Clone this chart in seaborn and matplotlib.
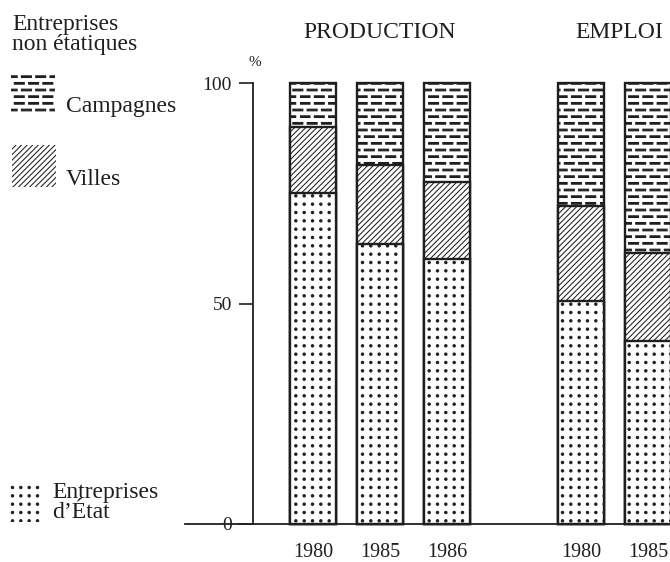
import numpy as np
import pandas as pd
import matplotlib
matplotlib.use("Agg")
import matplotlib.pyplot as plt
import seaborn as sns
from matplotlib import hatch as mhatch
from matplotlib.path import Path
from matplotlib.patches import Rectangle

# ---------------- data ----------------
sectors = ["PRODUCTION", "PRODUCTION", "PRODUCTION", "EMPLOI", "EMPLOI"]
years = ["1980", "1985", "1986", "1980", "1985"]
etat = [75.0, 63.5, 60.0, 50.5, 41.5]        # Entreprises d'État
villes = [15.0, 18.0, 17.5, 21.5, 20.0]      # non étatiques - Villes
campagnes = [10.0, 18.5, 22.5, 28.0, 38.5]   # non étatiques - Campagnes
y_ticks = [0, 50, 100]

INK = "#1f1f1f"
W, H = 670, 562


# ---------------- custom hatches (dashed rows, square dot grid) ----------------
class DashRows(mhatch.HatchPatternBase):
    def __init__(self, hatch, density):
        n = hatch.count('-')
        self.rows = int(round(n * density * 2.5))
        self.segs = []
        if self.rows:
            per = 7
            period = 1.0 / per
            dash = 0.70 * period
            th = 0.017
            step = 1.0 / self.rows
            for r in range(self.rows):
                y = (r + 0.5) * step
                off = period / 2 if r % 2 else 0.0
                for k in range(per):
                    x0 = k * period + off
                    x1 = x0 + dash
                    if x1 <= 1.0:
                        self.segs.append((x0, x1, y, th))
                    else:
                        if x0 < 1.0:
                            self.segs.append((x0, 1.0, y, th))
                        self.segs.append((0.0, x1 - 1.0, y, th))
        self.num_vertices = 5 * len(self.segs)

    def set_vertices_and_codes(self, vertices, codes):
        for i, (x0, x1, y, th) in enumerate(self.segs):
            vertices[5 * i:5 * i + 5] = [(x0, y - th / 2), (x1, y - th / 2),
                                         (x1, y + th / 2), (x0, y + th / 2),
                                         (x0, y - th / 2)]
            codes[5 * i:5 * i + 5] = [Path.MOVETO, Path.LINETO, Path.LINETO,
                                      Path.LINETO, Path.CLOSEPOLY]


class DotGrid(mhatch.HatchPatternBase):
    def __init__(self, hatch, density):
        self.n = int(hatch.count('.') * density * 2)
        circ = Path.unit_circle()
        self.sv = circ.vertices
        self.sc = circ.codes
        self.num_vertices = self.n * self.n * len(self.sv)

    def set_vertices_and_codes(self, vertices, codes):
        if not self.n:
            return
        step = 1.0 / self.n
        r = 0.012
        k = len(self.sv)
        c = 0
        for i in range(self.n):
            for j in range(self.n):
                vertices[c:c + k] = self.sv * r + [(j + 0.5) * step, (i + 0.5) * step]
                codes[c:c + k] = self.sc
                c += k


types = list(mhatch._hatch_types)
for i, t in enumerate(types):
    if t.__name__ == "HorizontalHatch":
        types[i] = DashRows
    elif t.__name__ == "SmallFilledCircles":
        types[i] = DotGrid
mhatch._hatch_types[:] = types

# ---------------- style ----------------
sns.set_style("white")
plt.rcParams["font.family"] = ["Liberation Serif", "DejaVu Serif"]
plt.rcParams["hatch.linewidth"] = 0.75
plt.rcParams["text.color"] = INK

fig = plt.figure(figsize=(W / 100, H / 100), dpi=100)
ax = fig.add_axes([185 / W, (H - 524) / H, 485 / W, 441 / H])

df = pd.DataFrame({"sector": sectors, "year": years, "etat": etat,
                   "villes": villes, "campagnes": campagnes})
df["key"] = df["sector"] + " " + df["year"]
df["top_villes"] = df["etat"] + df["villes"]
df["top_camp"] = df["top_villes"] + df["campagnes"]
keys = list(df["key"])
order = keys[:3] + ["gap"] + keys[3:]

common = dict(data=df, x="key", order=order, width=0.69, color="white",
              saturation=1, errorbar=None, edgecolor=INK, linewidth=1.7,
              ax=ax, clip_on=False)
sns.barplot(y="top_camp", hatch="-", **common)
sns.barplot(y="top_villes", hatch="//////", **common)
sns.barplot(y="etat", hatch=".", **common)

ax.set_xlabel("")
ax.set_ylabel("")
ax.set_ylim(0, 100)
ax.set_xlim(-1.91, 5.33)

pos = [order.index(k) for k in keys]
ax.set_xticks(pos, labels=years)
ax.tick_params(axis="x", length=0, pad=14, labelsize=14.5, labelcolor=INK)

ax.set_yticks(y_ticks, labels=[str(v) for v in y_ticks])
ax.tick_params(axis="y", left=True, length=10, width=1.2, direction="out",
               pad=5, labelsize=14, color=INK, labelcolor=INK)

for s in ["top", "right"]:
    ax.spines[s].set_visible(False)
ax.spines["left"].set_position(("data", -0.9))
ax.spines["left"].set_bounds(0, 100)
for s in ["left", "bottom"]:
    ax.spines[s].set_color(INK)
    ax.spines[s].set_linewidth(1.3)
ax.patch.set_alpha(0)


def fx(x):
    return x / W


def fy(y):
    return 1 - y / H


# titles and unit
fig.text(fx(380), fy(32), "PRODUCTION", ha="center", va="center", fontsize=17)
fig.text(fx(619), fy(32), "EMPLOI", ha="center", va="center", fontsize=17)
fig.text(fx(255), fy(62), "%", ha="center", va="center", fontsize=11)

# legend
fig.text(fx(12), fy(30), "Entreprises", fontsize=17, va="baseline")
fig.text(fx(12), fy(50), "non étatiques", fontsize=17, va="baseline")

legend_items = [
    ((11, 72, 44, 43), "-", "Campagnes", (66, 112)),
    ((12, 145, 44, 42), "//////", "Villes", (66, 185)),
    ((8, 485, 32, 37), ".", None, None),
]
for (x, y, w, h), hp, lab, lpos in legend_items:
    r = Rectangle((fx(x), fy(y + h)), w / W, h / H, transform=fig.transFigure,
                  facecolor="white", edgecolor=INK, linewidth=0, hatch=hp)
    fig.add_artist(r)
    if lab:
        fig.text(fx(lpos[0]), fy(lpos[1]), lab, fontsize=17, va="baseline")

fig.text(fx(52), fy(498), "Entreprises", fontsize=17, va="baseline")
fig.text(fx(52), fy(518), "d’État", fontsize=17, va="baseline")

fig.savefig("out.png", dpi=100, facecolor="white")
